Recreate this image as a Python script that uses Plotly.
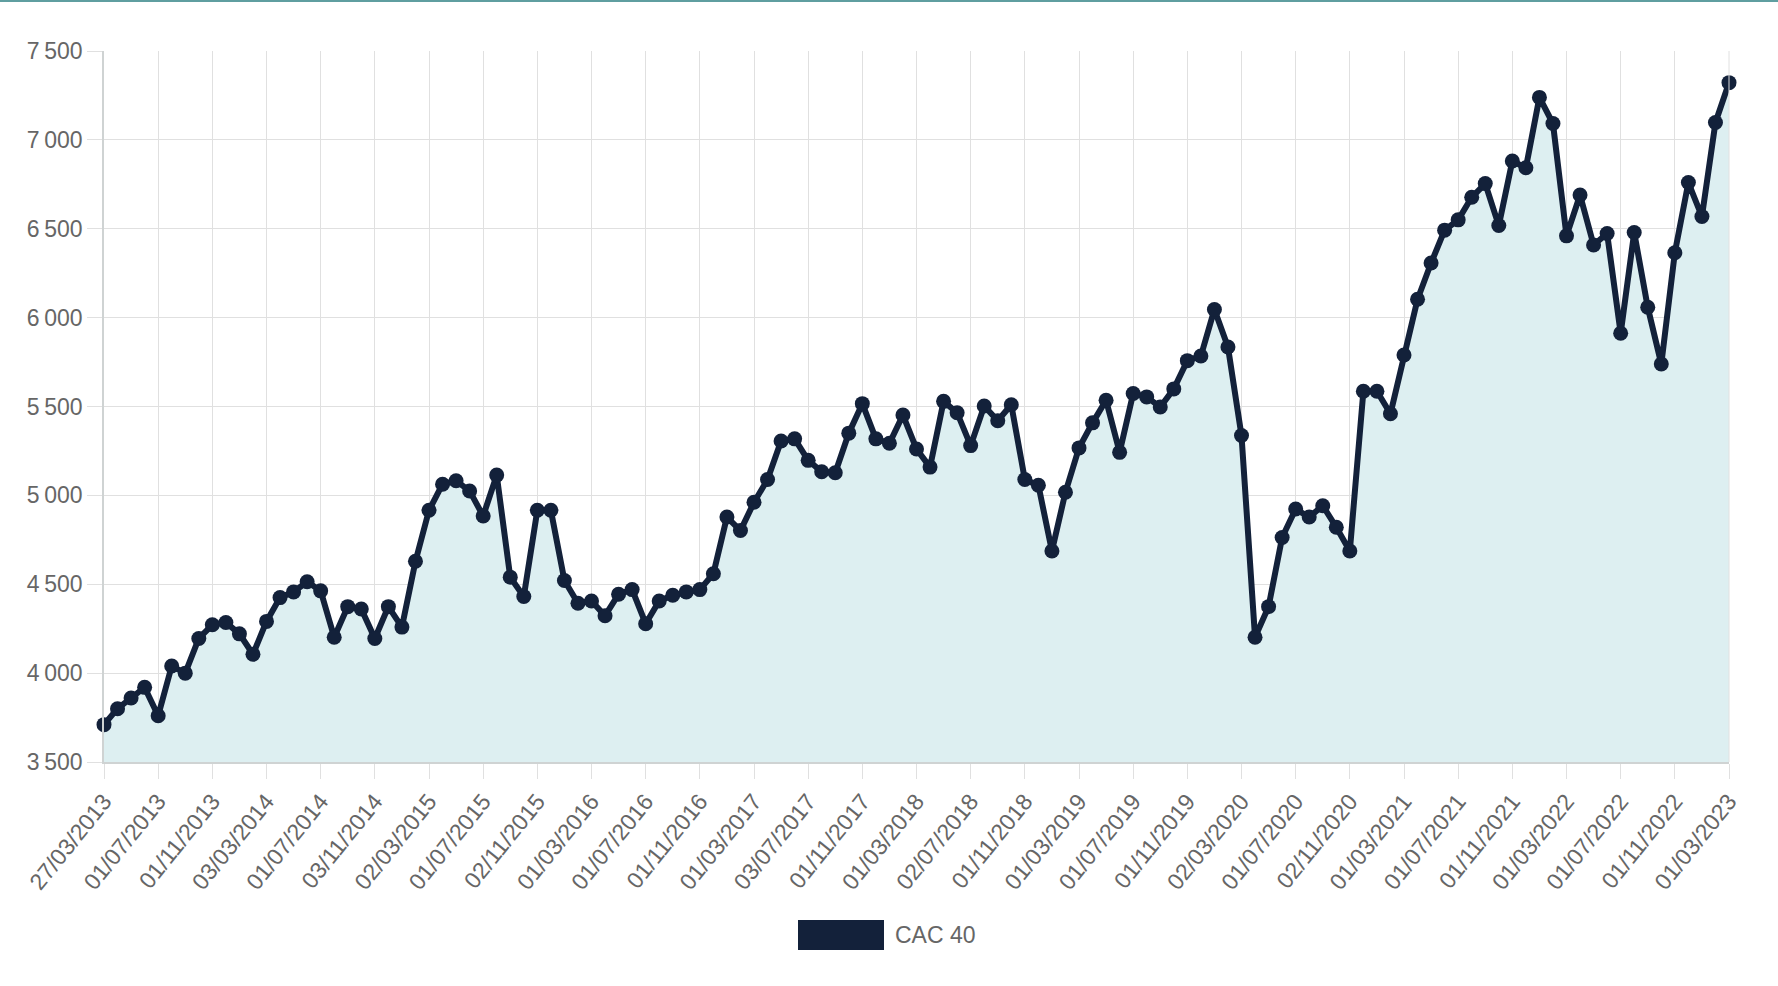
import plotly.graph_objects as go

# Monthly CAC 40 closing values (first trading day of each month, 03/2013 -> 03/2023)
cac40 = [
    3710, 3800, 3860, 3920, 3760, 4040, 4000, 4195, 4272, 4285, 4221, 4106,
    4291, 4425, 4457, 4514, 4463, 4202, 4374, 4361, 4195, 4374, 4259, 4629,
    4916, 5063, 5082, 5025, 4884, 5114, 4540, 4431, 4916, 4916, 4521, 4393,
    4406, 4323, 4444, 4470, 4278, 4406, 4438, 4457, 4470, 4559, 4878, 4802,
    4961, 5089, 5306, 5318, 5197, 5133, 5127, 5350, 5516, 5318, 5293, 5452,
    5261, 5159, 5529, 5465, 5280, 5503, 5420, 5510, 5089, 5057, 4687, 5018,
    5267, 5408, 5535, 5242, 5573, 5554, 5497, 5599, 5758, 5784, 6046, 5835,
    5337, 4202, 4374, 4763, 4923, 4878, 4942, 4821, 4687, 5586, 5586, 5459,
    5790, 6103, 6307, 6492, 6550, 6677, 6754, 6518, 6881, 6843, 7239, 7092,
    6460, 6690, 6409, 6473, 5912, 6479, 6058, 5739, 6365, 6760, 6569, 7098,
    7322,
]

# Tick labels shown every 4th month
tick_labels = [
    "27/03/2013", "01/07/2013", "01/11/2013", "03/03/2014", "01/07/2014",
    "03/11/2014", "02/03/2015", "01/07/2015", "02/11/2015", "01/03/2016",
    "01/07/2016", "01/11/2016", "01/03/2017", "03/07/2017", "01/11/2017",
    "01/03/2018", "02/07/2018", "01/11/2018", "01/03/2019", "01/07/2019",
    "01/11/2019", "02/03/2020", "01/07/2020", "02/11/2020", "01/03/2021",
    "01/07/2021", "01/11/2021", "01/03/2022", "01/07/2022", "01/11/2022",
    "01/03/2023",
]
tick_step = 4

y_ticks = [3500, 4000, 4500, 5000, 5500, 6000, 6500, 7000, 7500]
y_tick_text = [f"{v // 1000}\u2009{v % 1000:03d}" for v in y_ticks]

series_name = "CAC 40"
line_color = "#13213a"
fill_color = "#ddeff1"
grid_color = "#e0e0e0"
axis_color = "#cfd3d3"
text_color = "#666666"
font_family = "Liberation Sans, Arial, sans-serif"

x = list(range(len(cac40)))

fig = go.Figure()
fig.add_trace(go.Scatter(
    x=x, y=cac40, mode="lines", fill="tozeroy",
    fillcolor=fill_color, line=dict(width=0, color=fill_color),
    hoverinfo="skip", showlegend=False,
))
fig.add_trace(go.Scatter(
    x=x, y=cac40, mode="lines+markers", name=series_name,
    line=dict(color=line_color, width=6),
    marker=dict(color=line_color, size=15),
    cliponaxis=False, showlegend=False,
))

W, H = 1778, 986
ml, mr, mt, mb = 104, 49, 51, 224
ph = H - mt - mb
pw = W - ml - mr

fig.update_layout(
    width=W, height=H,
    margin=dict(l=ml, r=mr, t=mt, b=mb),
    paper_bgcolor="white", plot_bgcolor="white",
    font=dict(family=font_family, size=23, color=text_color),
    xaxis=dict(
        range=[0, len(cac40) - 1],
        tickmode="array",
        tickvals=x[::tick_step],
        ticktext=tick_labels,
        tickangle=-51,
        showgrid=True, gridcolor=grid_color, gridwidth=1,
        showline=True, linecolor=axis_color, linewidth=1.5,
        ticks="outside", ticklen=15, tickcolor=grid_color,
        zeroline=False, mirror=False,
    ),
    yaxis=dict(
        range=[3500, 7500],
        tickmode="array",
        tickvals=y_ticks, ticktext=y_tick_text,
        showgrid=True, gridcolor=grid_color, gridwidth=1,
        showline=True, linecolor=axis_color, linewidth=1.5,
        ticks="outside", ticklen=15, tickcolor=grid_color,
        zeroline=False,
    ),
    shapes=[
        # right border gridline
        dict(type="line", xref="paper", yref="paper", x0=1, x1=1, y0=0, y1=1,
             line=dict(color=grid_color, width=1)),
        # thin teal line at top of page
        dict(type="line", xref="paper", yref="paper",
             x0=-ml / pw, x1=1 + mr / pw,
             y0=1 + (mt - 1) / ph, y1=1 + (mt - 1) / ph,
             line=dict(color="#5f9ea0", width=2)),
        # legend box
        dict(type="rect", xref="paper", yref="paper",
             x0=(798 - ml) / pw, x1=(884 - ml) / pw,
             y0=-(920 - mt - ph) / ph - (30 / ph), y1=-(920 - mt - ph) / ph,
             fillcolor=line_color, line=dict(width=0)),
    ],
    annotations=[
        dict(text=series_name, xref="paper", yref="paper",
             x=(893 - ml) / pw, y=-(935 - mt - ph) / ph,
             xanchor="left", yanchor="middle", showarrow=False,
             font=dict(size=23, color=text_color, family=font_family)),
    ],
)

fig.write_html("out.html", config={"displayModeBar": False},
               post_script="document.body.style.margin='0px';")
